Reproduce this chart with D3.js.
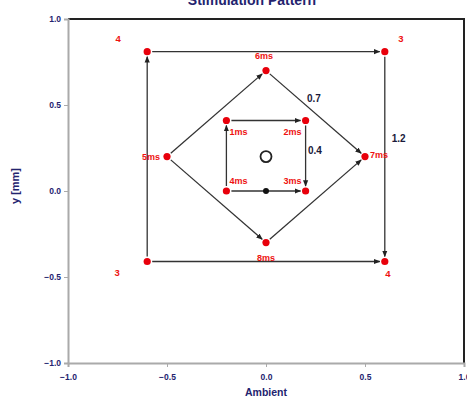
<!DOCTYPE html>
<html><head><meta charset="utf-8">
<script src="https://cdn.jsdelivr.net/npm/d3@7"></script>
<style>body{margin:0;background:#fff}svg{display:block}text{font-family:"Liberation Sans",Arial,sans-serif}</style>
</head><body><div id="c"></div>
<script>
// ---- data ----
const xTicks = [-1.0, -0.5, 0.0, 0.5, 1.0];
const yTicks = [-1.0, -0.5, 0.0, 0.5, 1.0];
const title = "Stimulation Pattern";
const xTitle = "Ambient";
const yTitle = "y [mm]";
// vertices (x, y) in data units
const outerPts = [[-0.6, 0.81], [0.6, 0.81], [-0.6, -0.41], [0.6, -0.41]];
const outerLabels = ["4", "3", "3", "4"];
const diamondPts = [[-0.5, 0.2], [0.0, 0.7], [0.5, 0.2], [0.0, -0.3]];
const diamondLabels = ["5ms", "6ms", "7ms", "8ms"];
const innerPts = [[-0.2, 0.41], [0.2, 0.41], [0.2, 0.0], [-0.2, 0.0]];
const innerLabels = ["1ms", "2ms", "3ms", "4ms"];
const centerPt = [0.0, 0.2];
const startPt = [0.0, 0.0];
// arrows: [x1, y1, x2, y2]
const arrows = [
  [-0.6, -0.41, -0.6, 0.81], [-0.6, 0.81, 0.6, 0.81], [0.6, 0.81, 0.6, -0.41], [-0.6, -0.41, 0.6, -0.41],
  [-0.5, 0.2, 0.0, 0.7], [0.0, 0.7, 0.5, 0.2], [-0.5, 0.2, 0.0, -0.3], [0.0, -0.3, 0.5, 0.2],
  [-0.2, 0.0, -0.2, 0.41], [-0.2, 0.41, 0.2, 0.41], [0.2, 0.41, 0.2, 0.0], [-0.2, 0.0, 0.2, 0.0]
];
const dimLabels = ["0.7", "0.4", "1.2"];
const dimPos = [[0.207, 0.515], [0.212, 0.217], [0.635, 0.284]];

// ---- layout ----
const W = 467, H = 398;
const m = {l: 68, r: 3, t: 19, b: 35};
const svg = d3.select("#c").append("svg").attr("width", W).attr("height", H);
const x = d3.scaleLinear().domain([-1, 1]).range([m.l, W - m.r]);
const y = d3.scaleLinear().domain([-1, 1]).range([H - m.b, m.t]);
const navy = "#23236e";

svg.append("defs").append("marker").attr("id", "ah")
  .attr("viewBox", "0 0 10 10").attr("refX", 9).attr("refY", 5)
  .attr("markerWidth", 5).attr("markerHeight", 5).attr("orient", "auto")
  .append("path").attr("d", "M0,1L10,5L0,9Z").attr("fill", "#222");

// frame top/right
svg.append("path").attr("d", `M${x(-1)},${y(1)}H${x(1)}V${y(-1)}`)
  .attr("fill", "none").attr("stroke", "#222").attr("stroke-width", 2);

const xa = svg.append("g").attr("transform", `translate(0,${y(-1)})`)
  .call(d3.axisBottom(x).tickValues(xTicks).tickFormat(d3.format(".1f")).tickSize(4).tickPadding(7));
const ya = svg.append("g").attr("transform", `translate(${x(-1)},0)`)
  .call(d3.axisLeft(y).tickValues(yTicks).tickFormat(d3.format(".1f")).tickSize(4).tickPadding(3));
[xa, ya].forEach(a => {
  a.select(".domain").attr("stroke", "#aaa").attr("stroke-width", 2);
  a.selectAll(".tick line").attr("stroke", "#aaa");
  a.selectAll(".tick text").attr("fill", navy).attr("font-size", 8.5).attr("font-weight", "bold");
});

svg.append("text").attr("x", 252).attr("y", 5).attr("text-anchor", "middle")
  .attr("font-size", 14).attr("font-weight", "bold").attr("fill", navy).text(title);
svg.append("text").attr("x", x(0)).attr("y", 396).attr("text-anchor", "middle")
  .attr("font-size", 10.5).attr("font-weight", "bold").attr("fill", navy).text(xTitle);
svg.append("text").attr("transform", `translate(19,${y(0) - 5}) rotate(-90)`).attr("text-anchor", "middle")
  .attr("font-size", 11).attr("font-weight", "bold").attr("fill", navy).text(yTitle);

// arrows (shortened)
const sh = 5;
svg.append("g").selectAll("line").data(arrows).join("line")
  .each(function(d) {
    const x1 = x(d[0]), y1 = y(d[1]), x2 = x(d[2]), y2 = y(d[3]);
    const L = Math.hypot(x2 - x1, y2 - y1), ux = (x2 - x1) / L, uy = (y2 - y1) / L;
    d3.select(this).attr("x1", x1 + ux * sh).attr("y1", y1 + uy * sh)
      .attr("x2", x2 - ux * sh).attr("y2", y2 - uy * sh);
  })
  .attr("stroke", "#333").attr("stroke-width", 1.3).attr("marker-end", "url(#ah)");

// points
const allPts = outerPts.concat(diamondPts, innerPts);
svg.append("g").selectAll("circle").data(allPts).join("circle")
  .attr("cx", d => x(d[0])).attr("cy", d => y(d[1])).attr("r", 3.6).attr("fill", "#e8000b");
svg.append("circle").attr("cx", x(centerPt[0])).attr("cy", y(centerPt[1])).attr("r", 5.5)
  .attr("fill", "#fff").attr("stroke", "#222").attr("stroke-width", 1.8);
svg.append("circle").attr("cx", x(startPt[0])).attr("cy", y(startPt[1])).attr("r", 3).attr("fill", "#111");

const red = "#ee1111";
function lab(px, py, t, anchor, col, fs) {
  svg.append("text").attr("x", px).attr("y", py).attr("text-anchor", anchor)
    .attr("font-size", fs || 9).attr("font-weight", "bold").attr("fill", col || red).text(t);
}
// outer corner labels
const oOff = [[-29, -10], [16, -10], [-30, 14], [3, 15]];
outerPts.forEach((p, i) => lab(x(p[0]) + oOff[i][0], y(p[1]) + oOff[i][1], outerLabels[i], "middle", red, 9.5));
// diamond labels
const dOff = [[-7, 3, "end"], [-2, -12, "middle"], [5, 1, "start"], [0, 18, "middle"]];
diamondPts.forEach((p, i) => lab(x(p[0]) + dOff[i][0], y(p[1]) + dOff[i][1], diamondLabels[i], dOff[i][2]));
// inner labels
const iOff = [[3, 15, "start"], [-4, 15, "end"], [-4, -7, "end"], [3, -7, "start"]];
innerPts.forEach((p, i) => lab(x(p[0]) + iOff[i][0], y(p[1]) + iOff[i][1], innerLabels[i], iOff[i][2]));
// dimension labels
dimLabels.forEach((t, i) => lab(x(dimPos[i][0]), y(dimPos[i][1]), t, "start", "#1a1a3a", 10));
</script></body></html>
